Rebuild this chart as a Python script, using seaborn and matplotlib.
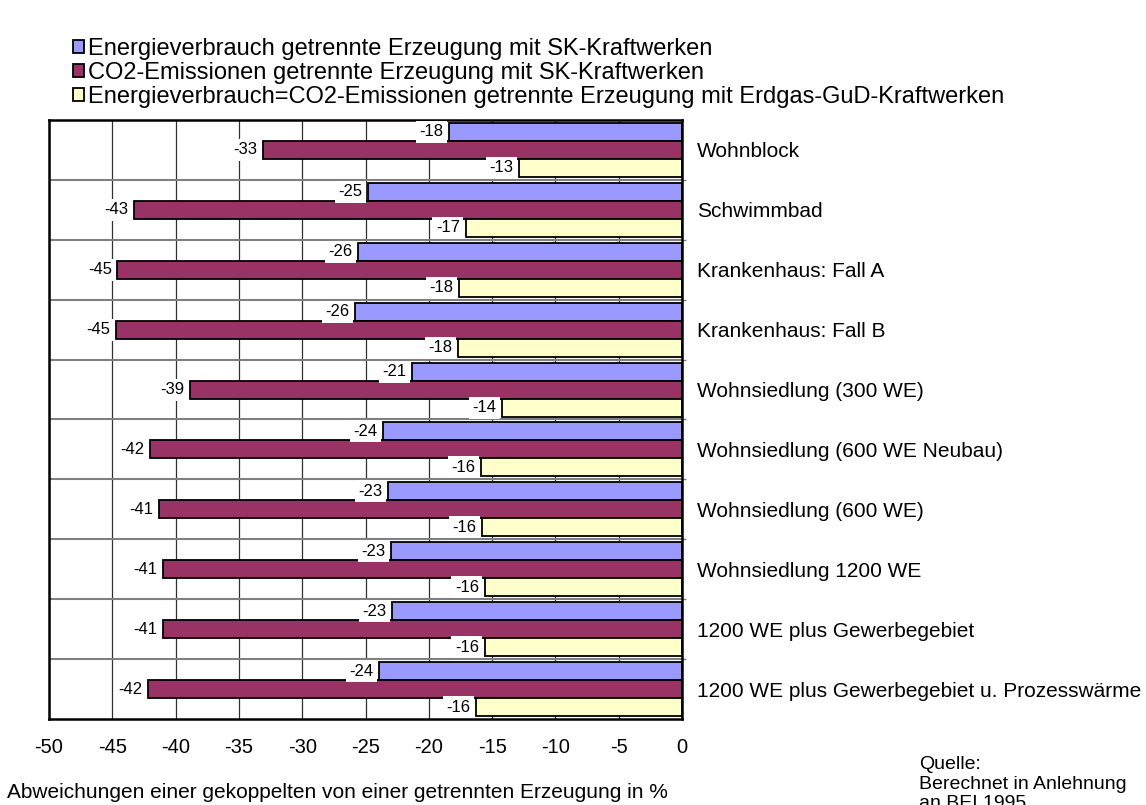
import pandas as pd
import matplotlib
matplotlib.use("Agg")
import matplotlib.pyplot as plt
import seaborn as sns

# Daten (Abweichung in %)
kategorien = ["Wohnblock", "Schwimmbad", "Krankenhaus: Fall A", "Krankenhaus: Fall B",
              "Wohnsiedlung (300 WE)", "Wohnsiedlung (600 WE Neubau)", "Wohnsiedlung (600 WE)",
              "Wohnsiedlung 1200 WE", "1200 WE plus Gewerbegebiet",
              "1200 WE plus Gewerbegebiet u. Prozesswärme"]
serien = ["Energieverbrauch getrennte Erzeugung mit SK-Kraftwerken",
          "CO2-Emissionen getrennte Erzeugung mit SK-Kraftwerken",
          "Energieverbrauch=CO2-Emissionen getrennte Erzeugung mit Erdgas-GuD-Kraftwerken"]
energie_sk = [-18.4, -24.8, -25.6, -25.8, -21.3, -23.6, -23.2, -23.0, -22.9, -23.9]
co2_sk = [-33.1, -43.3, -44.6, -44.7, -38.9, -42.0, -41.3, -41.0, -41.0, -42.2]
gud = [-12.9, -17.1, -17.6, -17.7, -14.2, -15.9, -15.8, -15.6, -15.6, -16.3]
farben = ["#9999FF", "#993366", "#FFFFCC"]

# Long-Format fuer seaborn
df = pd.DataFrame({
    "kategorie": kategorien * 3,
    "serie": [serien[0]] * 10 + [serien[1]] * 10 + [serien[2]] * 10,
    "wert": energie_sk + co2_sk + gud,
})

sns.set_style("white")
plt.rcParams["font.family"] = ["Liberation Sans", "DejaVu Sans"]
plt.rcParams["axes.unicode_minus"] = False
plt.rcParams["text.color"] = "black"
plt.rcParams["xtick.color"] = "black"
plt.rcParams["ytick.color"] = "black"

fig = plt.figure(figsize=(11.46, 8.05), dpi=100)
ax = fig.add_axes([49 / 1146, 1 - 719 / 805, (682 - 49) / 1146, (719 - 120) / 805])

sns.barplot(data=df, x="wert", y="kategorie", hue="serie", order=kategorien,
            hue_order=serien, palette=farben, orient="h", saturation=1,
            edgecolor="black", linewidth=1.3, width=0.9, errorbar=None, ax=ax)

# Datenbeschriftung
for c in ax.containers:
    ax.bar_label(c, fmt="%.0f", padding=4, fontsize=12, zorder=6, color="black",
                 bbox=dict(facecolor="white", edgecolor="none", pad=2.5))

ax.set_xlim(-50, 0)
ax.set_ylim(9.5, -0.5)
ax.set_xticks(range(-50, 1, 5))
ax.set_xlabel("")
ax.set_ylabel("")
ax.set_axisbelow(True)
ax.grid(axis="x", color="#303030", linewidth=0.9)
ax.set_yticks([i + 0.5 for i in range(9)], minor=True)
ax.grid(axis="y", which="minor", color="#808080", linewidth=1.5)
ax.grid(axis="y", which="major", visible=False)
ax.yaxis.tick_right()
ax.tick_params(axis="y", which="major", length=0, pad=11, labelsize=15)
ax.tick_params(axis="y", which="minor", length=3, width=1, color="#808080")
ax.tick_params(axis="x", length=0, pad=14, labelsize=14.5)
for s in ax.spines.values():
    s.set_visible(True)
    s.set_color("black")
    s.set_linewidth(1.8)

sns.move_legend(ax, loc="upper left", bbox_to_anchor=(73 / 1146, 1 - 38 / 805),
                bbox_transform=fig.transFigure, frameon=False, title=None,
                fontsize=17, handlelength=0.47, handleheight=0.47,
                handletextpad=0.17, labelspacing=0.08, borderpad=0, borderaxespad=0)

fig.text(7 / 1146, 1 - 792 / 805, "Abweichungen einer gekoppelten von einer getrennten Erzeugung in %",
         fontsize=15, ha="left", va="center")
fig.text(919 / 1146, 1 - 756 / 805, "Quelle:\nBerechnet in Anlehnung\nan BEI 1995",
         fontsize=14, ha="left", va="top", linespacing=1.2)

fig.savefig("out.png", dpi=100)
